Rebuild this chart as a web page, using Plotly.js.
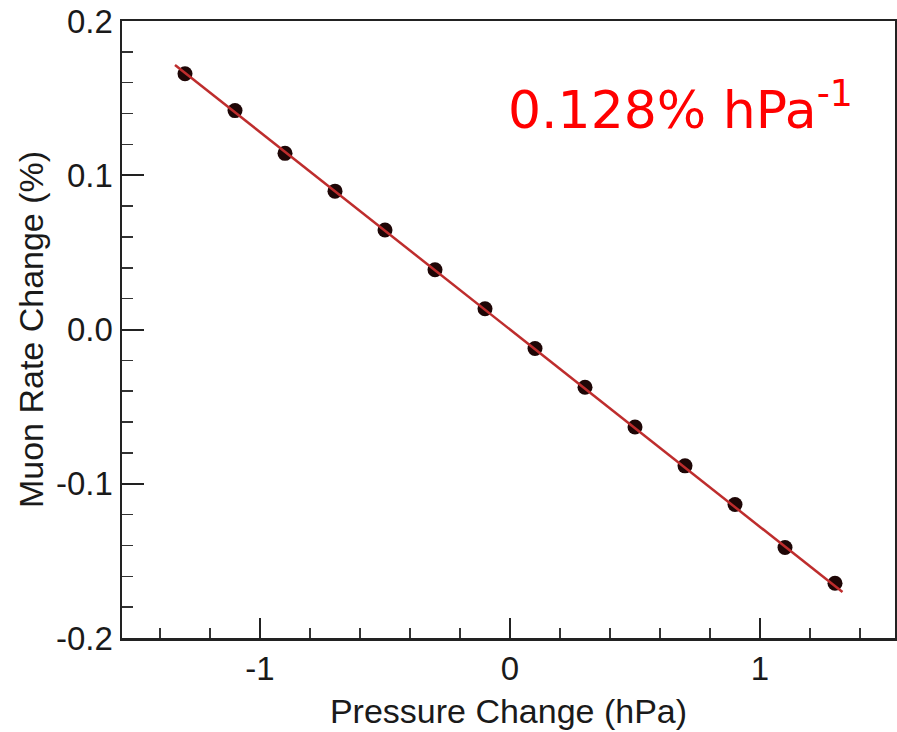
<!DOCTYPE html>
<html>
<head>
<meta charset="utf-8">
<script src="https://cdn.plot.ly/plotly-3.0.1.min.js"></script>
<style>html,body{margin:0;padding:0;background:#fff;}#chart{width:897px;height:732px;}</style>
</head>
<body>
<div id="chart"></div>
<script>
var pressure = [-1.3, -1.1, -0.9, -0.7, -0.5, -0.3, -0.1, 0.1, 0.3, 0.5, 0.7, 0.9, 1.1, 1.3];
var rateChange = [0.1658, 0.1419, 0.1142, 0.0897, 0.0645, 0.0387, 0.0135, -0.0123, -0.0374, -0.0632, -0.0884, -0.1135, -0.1413, -0.1645];
var fitX = [-1.34, 1.33];
var fitY = [0.1715, -0.1702];
var xTickVals = [-1, 0, 1];
var xTickText = ["-1", "0", "1"];
var yTickVals = [-0.2, -0.1, 0, 0.1, 0.2];
var yTickText = ["-0.2", "-0.1", "0.0", "0.1", "0.2"];
var slopeLabel = "0.128% hPa<sup>-1</sup>";

var traces = [
  {x: pressure, y: rateChange, mode: 'markers', type: 'scatter',
   marker: {size: 15, color: '#1e0606'}, hoverinfo: 'skip'},
  {x: fitX, y: fitY, mode: 'lines', type: 'scatter',
   line: {color: 'rgb(190,45,45)', width: 2.5}, hoverinfo: 'skip'}
];

var fontFam = '"Liberation Sans", Arial, Helvetica, sans-serif';
var layout = {
  width: 897, height: 732,
  margin: {l: 122, r: 2, t: 21, b: 94},
  paper_bgcolor: '#fff', plot_bgcolor: '#fff',
  showlegend: false,
  xaxis: {
    range: [-1.552, 1.54], showgrid: false, zeroline: false,
    showline: true, mirror: true, linecolor: '#222', linewidth: 2.5,
    tickmode: 'array', tickvals: xTickVals, ticktext: xTickText,
    ticks: 'inside', ticklen: 20, tickwidth: 2, tickcolor: '#222',
    minor: {dtick: 0.2, tick0: 0, ticks: 'inside', ticklen: 10, tickwidth: 1.5, tickcolor: '#333'},
    tickfont: {family: fontFam, size: 33, color: '#1a1a1a'},
    title: {text: 'Pressure Change (hPa)', font: {family: fontFam, size: 34, color: '#1a1a1a'}, standoff: 13}
  },
  yaxis: {
    range: [-0.2, 0.2], showgrid: false, zeroline: false,
    showline: true, mirror: true, linecolor: '#222', linewidth: 2.5,
    tickmode: 'array', tickvals: yTickVals, ticktext: yTickText,
    ticks: 'inside', ticklen: 22, tickwidth: 2, tickcolor: '#222',
    minor: {dtick: 0.02, tick0: 0, ticks: 'inside', ticklen: 11, tickwidth: 1.5, tickcolor: '#333'},
    tickfont: {family: fontFam, size: 33, color: '#1a1a1a'},
    title: {text: 'Muon Rate Change (%)', font: {family: fontFam, size: 34, color: '#1a1a1a'}, standoff: 2}
  },
  annotations: [{
    xref: 'paper', yref: 'paper', x: 0.497, y: 0.862, xanchor: 'left', yanchor: 'middle',
    text: slopeLabel, showarrow: false,
    font: {family: '"DejaVu Sans", sans-serif', size: 52, color: '#ff0000'}
  }]
};
Plotly.newPlot('chart', traces, layout, {staticPlot: true, displayModeBar: false});
</script>
</body>
</html>
